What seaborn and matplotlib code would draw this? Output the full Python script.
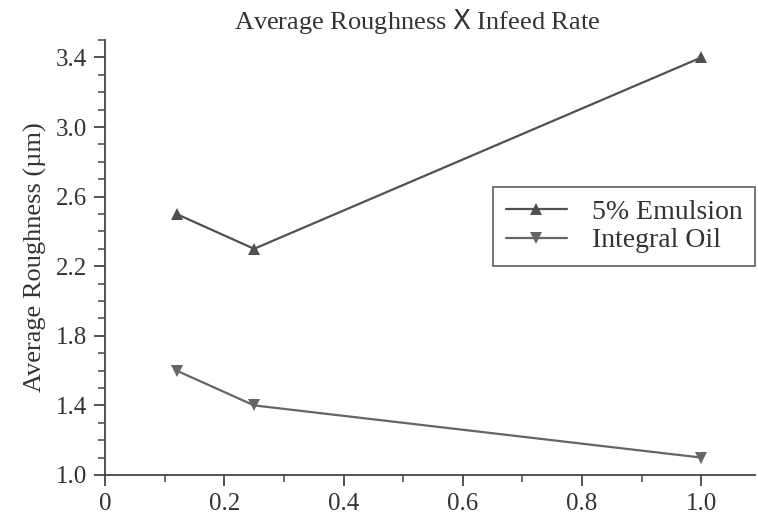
import pandas as pd
import seaborn as sns
import matplotlib.pyplot as plt
from matplotlib.ticker import MultipleLocator

infeed = [0.12, 0.25, 1.0]
emulsion = [2.5, 2.3, 3.4]
integral_oil = [1.6, 1.4, 1.1]
labels = ["5% Emulsion", "Integral Oil"]
x_ticks = [0, 0.2, 0.4, 0.6, 0.8, 1.0]
x_ticklabels = ["0", "0.2", "0.4", "0.6", "0.8", "1.0"]
y_ticks = [1.0, 1.4, 1.8, 2.2, 2.6, 3.0, 3.4]


def plot():
    sns.set_style("ticks")
    plt.rcParams["font.family"] = ["Liberation Serif", "DejaVu Serif"]
    plt.rcParams["mathtext.fontset"] = "dejavusans"

    df = pd.DataFrame({
        "x": infeed * 2,
        "y": emulsion + integral_oil,
        "fluid": [labels[0]] * 3 + [labels[1]] * 3,
    })

    fig = plt.figure(figsize=(7.58, 5.27), dpi=100)
    ax = fig.add_axes([0.1385, 0.0987, 0.8575, 0.8253])

    sns.lineplot(
        ax=ax,
        data=df,
        x="x",
        y="y",
        hue="fluid",
        style="fluid",
        markers={labels[0]: "^", labels[1]: "v"},
        dashes=False,
        palette={labels[0]: "#505050", labels[1]: "#656565"},
        markersize=9,
        linewidth=1.6,
        markeredgewidth=0,
    )

    ax.set_xlim(0, 1.09)
    ax.set_ylim(1.0, 3.5)
    ax.set_xticks(x_ticks)
    ax.set_xticklabels(x_ticklabels)
    ax.set_yticks(y_ticks)
    ax.xaxis.set_minor_locator(MultipleLocator(0.1))
    ax.yaxis.set_minor_locator(MultipleLocator(0.1))
    ax.tick_params(which="major", length=8, width=1.3, color="#444444",
                   labelsize=18, labelcolor="#333333", pad=5)
    ax.tick_params(which="minor", length=5, width=1.1, color="#444444")
    ax.spines["top"].set_visible(False)
    ax.spines["right"].set_visible(False)
    for s in ["left", "bottom"]:
        ax.spines[s].set_color("#444444")
        ax.spines[s].set_linewidth(1.3)

    ax.set_xlabel("")
    ax.set_ylabel("Average Roughness (µm)", fontsize=19, color="#333333", labelpad=6)
    ax.set_title(r"Average Roughness $\mathrm{X}$ Infeed Rate", fontsize=19,
                 color="#333333", pad=8, x=0.48)

    leg = ax.legend(loc="upper left", bbox_to_anchor=(0.597, 0.662), fontsize=20,
                    frameon=True, fancybox=False, edgecolor="#444444",
                    handlelength=2.2, handletextpad=0.9, borderpad=0.45,
                    labelspacing=0.1, borderaxespad=0)
    leg.get_frame().set_linewidth(1.3)
    for t in leg.get_texts():
        t.set_color("#333333")

    plt.savefig("out.png", dpi=100)


if __name__ == '__main__':
    plot()
